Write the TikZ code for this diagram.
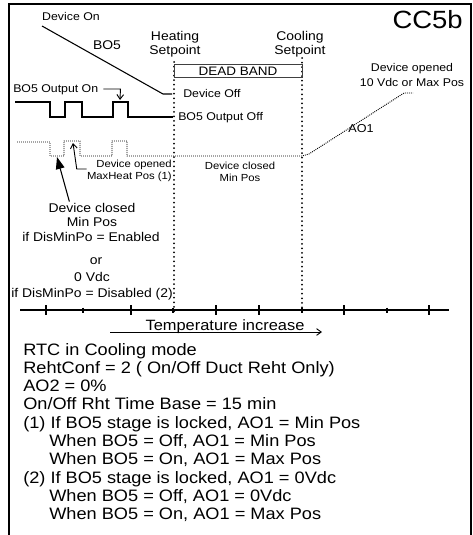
\documentclass[tikz,border=0pt]{standalone}
\usepackage{fontspec}
\setmainfont{Liberation Sans}[FakeStretch=1.1]
\usetikzlibrary{arrows.meta}

\begin{document}
\begin{tikzpicture}[x=0.75pt, y=-0.75pt,
        txt/.style={inner sep=0pt, anchor=base},
        notetxt/.style={txt, font=\fontsize{7.7}{9}\selectfont},
        smalltxt/.style={txt, font=\fontsize{8.4}{10}\selectfont},
        midtxt/.style={txt, font=\fontsize{9.5}{11}\selectfont},
        bigtxt/.style={txt, font=\fontsize{12.4}{14}\selectfont},
        bosig/.style={line width=1.5pt},
        aosig/.style={black, line width=0.7pt, dash pattern=on 0.7pt off 0.8pt},
        setpt/.style={line width=1.5pt, line cap=round, dash pattern=on 0pt off 3.4pt},
        barb/.style={-{Straight Barb[length=3.5pt,width=5pt]}, line width=0.7pt}]
    \useasboundingbox (0,0) rectangle (473,535);

    % Frame and title
    \draw[line width=1.7pt] (9,535) -- (9,4) -- (471,4) -- (471,535);
    \node[txt, anchor=base east, font=\fontsize{18.7}{20}\selectfont] (title) at (463,28.3) {CC5b};

    % Setpoints and dead band
    \node[midtxt] (heat) at (175,41) {Heating};
    \node[midtxt] (heatsp) at (175,55) {Setpoint};
    \node[midtxt] (cool) at (300,41) {Cooling};
    \node[midtxt] (coolsp) at (300,55) {Setpoint};
    \draw[setpt] (174,62) -- (174,312);
    \draw[setpt] (302,58) -- (302,312);
    \node[draw=black!75, line width=0.75pt, inner sep=0pt, minimum width=96pt, minimum height=9.75pt,
          font=\fontsize{9.2}{11}\selectfont] (dband) at (238,71.5) {DEAD BAND};

    % BO5 stage
    \node[smalltxt] (devon) at (71,20.7) {Device On};
    \node[midtxt] (bo5) at (107,50) {BO5};
    \draw[line width=0.8pt] (42,26) -- (163,94) -- (172,94);
    \node[smalltxt, anchor=base west] (devoff) at (183,98) {Device Off};
    \node[smalltxt, anchor=base west] (bon) at (13,93) {BO5 Output On};
    \node[smalltxt, anchor=base west] (boff) at (178,120) {BO5 Output Off};
    \draw[bosig] (15,102) -- (50,102) -- (50,117) -- (65,117) -- (65,102) -- (82,102) -- (82,117)
        -- (113,117) -- (113,102) -- (128,102) -- (128,117) -- (173,117);
    \coordinate (ontip) at (120,100);
    \draw[barb] ([shift={(5,-4)}]bon.base east) -- ++(17,0) -- (ontip);

    % AO1 output
    \draw[aosig] (17,142) -- (50,142) -- (50,156) -- (64,156) -- (64,141) -- (80,141) -- (80,156)
        -- (112,156) -- (112,141) -- (127,141) -- (127,156) -- (302,156) -- (309,154) -- (404,93) -- (413,93);
    \node[smalltxt] (maxo1) at (412,71) {Device opened};
    \node[smalltxt] (maxo2) at (412,86) {10 Vdc or Max Pos};
    \node[txt, font=\fontsize{8.6}{10}\selectfont] (ao1) at (361,132) {AO1};
    \node[notetxt, anchor=base east] (mh1) at (172,167.7) {Device opened};
    \node[notetxt, anchor=base east] (mh2) at (172,179.7) {MaxHeat Pos (1)};
    \node[notetxt] (mc1) at (240,169.7) {Device closed};
    \node[notetxt] (mc2) at (240,181.5) {Min Pos};
    \coordinate (opentip) at (73,143);
    \draw[barb] ([shift={(0,-3)}]mh2.north west) -- ++(-10,0) -- (opentip);

    % Closed position note
    \foreach \x/\y/\t [count=\i] in {92/212/Device closed, 92/226.5/Min Pos, 91/241.5/{if DisMinPo = Enabled},
            96/264.5/or, 92/281.5/0 Vdc, 92/297.5/{if DisMinPo = Disabled (2)}} {
        \node[midtxt] (cl\i) at (\x,\y) {\t};
    }
    \coordinate (closedtip) at (57,157);
    \draw[-{Triangle[length=9pt,width=6.5pt]}, line width=0.8pt] ([shift={(21,-1)}]cl1.north west) -- (closedtip);

    % Temperature axis
    \draw[line width=0.8pt] (20,310) -- (449,310);
    \foreach \x in {46,131,216,259,344,429} \draw[line width=0.8pt] (\x,305) -- (\x,315);
    \foreach \x in {83,173,302,387} \draw[line width=0.8pt] (\x,307.5) -- (\x,312.5);
    \node[txt, font=\fontsize{11.2}{13}\selectfont] (tinc) at (225,330) {Temperature increase};
    \coordinate (tl) at (110,332);
    \coordinate (tr) at (322,332);
    \draw[barb] (tl) -- (tr);

    % Notes
    \foreach \x/\t [count=\i] in {23/RTC in Cooling mode, 23/{RehtConf = 2 ( On/Off Duct Reht Only)}, 23/AO2 = 0\%,
            23/{On/Off Rht Time Base = 15 min}, 23/{(1) If BO5 stage is locked, AO1 = Min Pos},
            49/{When BO5 = Off, AO1 = Min Pos}, 49/{When BO5 = On, AO1 = Max Pos},
            23/{(2) If BO5 stage is locked, AO1 = 0Vdc}, 49/{When BO5 = Off, AO1 = 0Vdc},
            49/{When BO5 = On, AO1 = Max Pos}} {
        \node[bigtxt, anchor=base west] (note\i) at (\x,336.67+18.33*\i) {\t};
    }
\end{tikzpicture}
\end{document}
